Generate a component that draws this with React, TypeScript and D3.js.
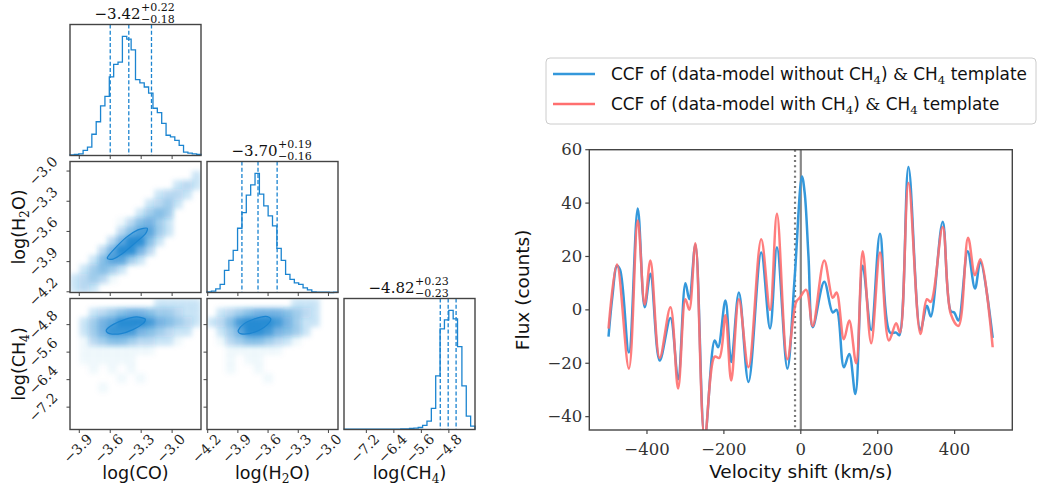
import React from "react";
import * as d3 from "d3";

// ---------------- CCF panel data ----------------
const blueVel = [-500,-490,-478,-470,-447,-424,-406,-391,-367,-339,-319,-300,-290,-274,-250,-224,-215,-196,-181,-161,-136,-103,-80,-62,-35,-16,3,10,20,31,61,83,93,112,126,142,161,183,206,232,248,256,280,311,328,338,369,390,399,410,434,453,467,499];
const blueFlux = [-10,5,16.5,15,-16,38,1,13.5,-19,-3,-26,10,4,24.5,-48,-11.5,-14,3.5,-19.5,6.5,-27,21.5,-7,23.5,-22,12,50,44,20,-6.5,10.5,-1,0,-21.5,-16.5,-31.5,16.5,-7.5,28.5,-8.5,-8.5,-9.5,53.5,-7.5,1.5,-2.5,33,-0.5,-1,-4,22,8,18,-10.5];
const redVel = [-500,-478,-447,-424,-406,-391,-367,-339,-319,-300,-290,-274,-250,-224,-212,-196,-181,-161,-136,-103,-80,-62,-35,-12,-3,14,31,61,83,93,112,126,144,161,183,206,229,248,258,280,311,328,338,369,390,410,435,453,467,499];
const redFlux = [-7,17,-22,33.5,2,18.5,-18,1,-29.5,4,0,25,-48,-17.5,-18,-2,-26.5,4,-21.5,26.5,0,36,-18.5,3,4.5,7.5,-6,18.5,4.5,6.5,-11,-4,-20,22,-12.5,21.5,-11.5,-5,-8.5,47.5,-9,4,3,31,-1.5,-6,27,13,19,-14];
const ccfXTicks = [-400, -200, 0, 200, 400];
const ccfYTicks = [-40, -20, 0, 20, 40, 60];
const restVelocity = 0;
const fitVelocity = -15;

// ---------------- corner plot data ----------------
const paramRanges: [number, number][] = [[-3.99, -2.72], [-4.207, -2.905], [-7.85, -4.04]];
const paramTicks = [[-3.9, -3.6, -3.3, -3.0], [-4.2, -3.9, -3.6, -3.3, -3.0], [-7.2, -6.4, -5.6, -4.8]];
const paramLabels = [["log(CO)"], ["log(H", "2", "O)"], ["log(CH", "4", ")"]];
const medians = [-3.42, -3.70, -4.82];
const errPlus = [0.22, 0.19, 0.23];
const errMinus = [0.18, 0.16, 0.23];

const histCO = [2,3,5,15,25,63,100,147,175,233,270,277,353,345,313,225,215,203,185,140,127,95,60,55,45,30,10,7,5,3];
const histH2O = [2,4,11,24,66,96,126,192,239,291,322,356,294,259,229,199,132,96,54,39,29,24,14,8,2,1,1,1,0,1];
const histCH4 = [1,1,1,1,1,1,1,1,1,1,1,1,1,2,2,3,4,6,12,25,63,160,300,327,355,330,247,130,40,10];

const densCOH2O = [
  "00000000000000",
  "00000000000002",
  "00000000000232",
  "00000000023320",
  "00000000234200",
  "00000002454000",
  "00000135642000",
  "00000357742000",
  "00003699520000",
  "00036996300000",
  "00257742000000",
  "02454200000000",
  "23431000000000",
  "23200000000000",
];
const densCOCH4 = [
  "00000000022222",
  "00234566544322",
  "02467999865432",
  "02468886543220",
  "01345543322100",
  "01111111100000",
  "01111110000000",
  "00101010000000",
  "00000101000000",
  "00010000000000",
  "00000000000000",
  "00000000000000",
  "00000000000000",
  "00000000000000",
];
const densH2OCH4 = [
  "00000000022200",
  "02345666543200",
  "23589998642200",
  "02469986542000",
  "01345543210000",
  "00111111000000",
  "00101100000000",
  "00100100000000",
  "00000010000000",
  "00000000000000",
  "00000000000000",
  "00000000000000",
  "00000000000000",
  "00000000000000",
];
const contourCOH2O: [number, number][] = [[-3.629,-3.862],[-3.557,-3.771],[-3.445,-3.659],[-3.332,-3.585],[-3.242,-3.568],[-3.261,-3.626],[-3.364,-3.720],[-3.477,-3.816],[-3.574,-3.876]];
const contourCOCH4: [number, number][] = [[-3.639,-4.965],[-3.574,-4.80],[-3.461,-4.655],[-3.348,-4.577],[-3.261,-4.635],[-3.283,-4.771],[-3.380,-4.945],[-3.493,-5.06],[-3.606,-5.06]];
const contourH2OCH4: [number, number][] = [[-3.896,-4.965],[-3.837,-4.771],[-3.738,-4.635],[-3.623,-4.56],[-3.573,-4.635],[-3.606,-4.80],[-3.688,-4.965],[-3.787,-5.06],[-3.876,-5.06]];

const hists = [histCO, histH2O, histCH4];
const pairs = [
  { row: 1, col: 0, dens: densCOH2O, contour: contourCOH2O },
  { row: 2, col: 0, dens: densCOCH4, contour: contourCOCH4 },
  { row: 2, col: 1, dens: densH2OCH4, contour: contourH2OCH4 },
];

const SERIF = "'DejaVu Serif', serif";
const SANS = "'DejaVu Sans', sans-serif";
const BLUE = "#1b84d0";
const CCF_BLUE = "#3498db";
const CCF_RED = "#ff6f6f";
const FRAME = "#444";

const fmt = (v: number) => (v < 0 ? "\u2212" : "") + Math.abs(v).toFixed(1);
const fmt2 = (v: number) => (v < 0 ? "\u2212" : "") + Math.abs(v).toFixed(2);

function SubLabel({ parts, size }: { parts: string[]; size: number }) {
  const sh = size * 0.22;
  return (
    <>
      {parts.map((p, k) =>
        k % 2 === 1 ? (
          <tspan key={k} fontFamily={SERIF} fontSize={size * 0.7} dy={sh}>{p}</tspan>
        ) : (
          <tspan key={k} dy={k > 0 ? -sh : 0}>{p}</tspan>
        )
      )}
    </>
  );
}

export default function App() {
  const S = 131;
  const panelX = [70, 207, 344];
  const panelY = [24.5, 161.5, 298.5];
  const xs = paramRanges.map((r, i) => d3.scaleLinear().domain(r).range([panelX[i], panelX[i] + S]));
  const ys = paramRanges.map((r, i) => d3.scaleLinear().domain(r).range([panelY[i] + S, panelY[i]]));
  const TICK_FS = 14;

  const cornerEls: React.ReactNode[] = [];

  hists.forEach((h, i) => {
    const [r0, r1] = paramRanges[i];
    const nb = h.length;
    const edges = d3.range(nb + 1).map((k) => r0 + (k * (r1 - r0)) / nb);
    const yh = d3.scaleLinear().domain([0, 1.1 * (d3.max(h) as number)]).range([panelY[i] + S, panelY[i]]);
    let path = `M${xs[i](edges[0])},${yh(0)}`;
    h.forEach((c, k) => {
      path += `L${xs[i](edges[k])},${yh(c)}L${xs[i](edges[k + 1])},${yh(c)}`;
    });
    path += `L${xs[i](edges[nb])},${yh(0)}`;
    const qs = [medians[i] - errMinus[i], medians[i], medians[i] + errPlus[i]];
    const cx = panelX[i] + S / 2 + 5;
    cornerEls.push(
      <g key={"h" + i}>
        <path d={path} fill="none" stroke={BLUE} strokeWidth={1.3} />
        {qs.map((q, k) => (
          <line key={k} x1={xs[i](q)} x2={xs[i](q)} y1={panelY[i]} y2={panelY[i] + S} stroke={BLUE} strokeWidth={1.3} strokeDasharray="4,2.2" />
        ))}
        <text x={cx} y={panelY[i] - 6} textAnchor="end" fontFamily={SERIF} fontSize={15} fill="#111">{fmt2(medians[i])}</text>
        <text x={cx + 0.5} y={panelY[i] - 13.5} fontFamily={SERIF} fontSize={11} fill="#111">{"+" + errPlus[i].toFixed(2)}</text>
        <text x={cx + 0.5} y={panelY[i] - 1.5} fontFamily={SERIF} fontSize={11} fill="#111">{"\u2212" + errMinus[i].toFixed(2)}</text>
      </g>
    );
  });

  pairs.forEach((p, idx) => {
    const { row, col, dens, contour } = p;
    const [xr0, xr1] = paramRanges[col];
    const [yr0, yr1] = paramRanges[row];
    const nr = dens.length;
    const nc = dens[0].length;
    const dx = (xr1 - xr0) / nc;
    const dy = (yr1 - yr0) / nr;
    const cells: React.ReactNode[] = [];
    dens.forEach((rowStr, r) => {
      rowStr.split("").forEach((ch, c) => {
        const v = +ch;
        if (v <= 0) return;
        const x0 = xs[col](xr0 + c * dx);
        const x1 = xs[col](xr0 + (c + 1) * dx);
        const yt = ys[row](yr1 - r * dy);
        const yb = ys[row](yr1 - (r + 1) * dy);
        const op = v === 1 ? 0.06 : Math.min(0.92, 0.1 * v);
        cells.push(<rect key={r + "_" + c} x={x0} y={yt} width={x1 - x0 + 0.5} height={yb - yt + 0.5} fill={BLUE} fillOpacity={op} />);
      });
    });
    const cline = d3
      .line<[number, number]>()
      .x((d) => xs[col](d[0]))
      .y((d) => ys[row](d[1]))
      .curve(d3.curveCardinalClosed.tension(0.2));
    cornerEls.push(
      <g key={"p" + idx} clipPath={`url(#clip${idx})`}>
        <g filter="url(#blur)">{cells}</g>
        <path d={cline(contour) || ""} fill={BLUE} fillOpacity={0.3} stroke={BLUE} strokeWidth={1.2} />
      </g>
    );
  });

  const frames: React.ReactNode[] = [];
  for (let r = 0; r < 3; r++) {
    for (let c = 0; c <= r; c++) {
      const x0 = panelX[c];
      const y0 = panelY[r];
      frames.push(<rect key={`f${r}${c}`} x={x0} y={y0} width={S} height={S} fill="none" stroke={FRAME} strokeWidth={1.4} />);
      paramTicks[c].forEach((t, k) => {
        const tx = xs[c](t);
        frames.push(<line key={`xt${r}${c}${k}`} x1={tx} x2={tx} y1={y0 + S} y2={y0 + S + 3.5} stroke={FRAME} strokeWidth={1} />);
        if (r === 2) {
          frames.push(
            <text key={`xl${c}${k}`} transform={`translate(${tx - 1.5},${y0 + S + 19}) rotate(-45)`} textAnchor="middle" dominantBaseline="central" fontFamily={SERIF} fontSize={TICK_FS} fill="#222">{fmt(t)}</text>
          );
        }
      });
      if (c < r) {
        paramTicks[r].forEach((t, k) => {
          const ty = ys[r](t);
          frames.push(<line key={`yt${r}${c}${k}`} x1={x0 - 3.5} x2={x0} y1={ty} y2={ty} stroke={FRAME} strokeWidth={1} />);
          if (c === 0) {
            frames.push(
              <text key={`yl${r}${k}`} transform={`translate(${x0 - 27},${ty}) rotate(-45)`} textAnchor="middle" dominantBaseline="central" fontFamily={SERIF} fontSize={TICK_FS} fill="#222">{fmt(t)}</text>
            );
          }
        });
      }
    }
  }

  const axisLabels: React.ReactNode[] = [];
  for (let c = 0; c < 3; c++) {
    axisLabels.push(
      <text key={"xlab" + c} x={panelX[c] + S / 2} y={479} textAnchor="middle" fontFamily={SANS} fontSize={17.5} fill="#111">
        <SubLabel parts={paramLabels[c]} size={17.5} />
      </text>
    );
  }
  for (let r = 1; r < 3; r++) {
    axisLabels.push(
      <text key={"ylab" + r} transform={`translate(25,${panelY[r] + S / 2}) rotate(-90)`} textAnchor="middle" fontFamily={SANS} fontSize={17.5} fill="#111">
        <SubLabel parts={paramLabels[r]} size={17.5} />
      </text>
    );
  }

  const L = 589.3, R = 1012.3, T = 149.7, B = 430;
  const vx = d3.scaleLinear().domain([-550, 550]).range([L, R]);
  const vy = d3.scaleLinear().domain([-45, 60]).range([B, T]);
  const mkLine = (vel: number[], flux: number[]) =>
    d3
      .line<number>()
      .x((_, i) => vx(vel[i]))
      .y((d) => vy(d))
      .curve(d3.curveCatmullRom.alpha(0.5))(flux) || "";

  const legendY = [74, 104];
  const legendColors = [CCF_BLUE, CCF_RED];
  const legendParts = [
    ["CCF of (data-model without CH", "4", ") ", "&", " CH", "4", " template"],
    ["CCF of (data-model with CH", "4", ") ", "&", " CH", "4", " template"],
  ];
  const renderLegend = (parts: string[]) => {
    const fs = 16.9;
    const sh = 3.8;
    const out: React.ReactNode[] = [];
    let shifted = false;
    parts.forEach((p, k) => {
      if (p === "4") {
        out.push(<tspan key={k} fontFamily={SERIF} fontSize={fs * 0.7} dy={sh}>{p}</tspan>);
        shifted = true;
      } else if (p === "&") {
        out.push(<tspan key={k} fontFamily={SERIF} dy={shifted ? -sh : 0}>{p}</tspan>);
        shifted = false;
      } else {
        out.push(<tspan key={k} dy={shifted ? -sh : 0}>{p}</tspan>);
        shifted = false;
      }
    });
    return out;
  };

  return (
    <svg width={1038} height={489} style={{ position: "absolute", left: 0, top: 0, background: "#fff" }}>
      <defs>
        <filter id="blur" x="-20%" y="-20%" width="140%" height="140%">
          <feGaussianBlur stdDeviation="2.6" />
        </filter>
        {pairs.map((p, idx) => (
          <clipPath key={idx} id={`clip${idx}`}>
            <rect x={panelX[p.col]} y={panelY[p.row]} width={S} height={S} />
          </clipPath>
        ))}
        <clipPath id="ccfclip">
          <rect x={L} y={T} width={R - L} height={B - T} />
        </clipPath>
      </defs>
      <rect x={0} y={0} width={1038} height={489} fill="#fff" />

      {cornerEls}
      {frames}
      {axisLabels}

      <g clipPath="url(#ccfclip)">
        <line x1={vx(fitVelocity)} x2={vx(fitVelocity)} y1={T} y2={B} stroke="#777" strokeWidth={2.2} strokeDasharray="2,3.2" />
        <line x1={vx(restVelocity)} x2={vx(restVelocity)} y1={T} y2={B} stroke="#888" strokeWidth={2.2} />
        <path d={mkLine(blueVel, blueFlux)} fill="none" stroke={CCF_BLUE} strokeWidth={2.5} />
        <path d={mkLine(redVel, redFlux)} fill="none" stroke={CCF_RED} strokeWidth={2.5} strokeOpacity={0.9} />
      </g>
      <rect x={L} y={T} width={R - L} height={B - T} fill="none" stroke={FRAME} strokeWidth={1.4} />
      {ccfXTicks.map((t) => (
        <g key={"cx" + t}>
          <line x1={vx(t)} x2={vx(t)} y1={B} y2={B + 4} stroke={FRAME} strokeWidth={1.2} />
          <text x={vx(t)} y={B + 25} textAnchor="middle" fontFamily={SERIF} fontSize={16.5} fill="#333">{t < 0 ? "\u2212" + Math.abs(t) : String(t)}</text>
        </g>
      ))}
      {ccfYTicks.map((t) => (
        <g key={"cy" + t}>
          <line x1={L - 4} x2={L} y1={vy(t)} y2={vy(t)} stroke={FRAME} strokeWidth={1.2} />
          <text x={L - 7} y={vy(t)} textAnchor="end" dominantBaseline="central" fontFamily={SERIF} fontSize={16.5} fill="#333">{t < 0 ? "\u2212" + Math.abs(t) : String(t)}</text>
        </g>
      ))}
      <text x={(L + R) / 2} y={478} textAnchor="middle" fontFamily={SANS} fontSize={18.5} fill="#111">Velocity shift (km/s)</text>
      <text transform={`translate(529,${(T + B) / 2}) rotate(-90)`} textAnchor="middle" fontFamily={SANS} fontSize={18.5} fill="#111">Flux (counts)</text>

      <rect x={546} y={58} width={490} height={66} rx={4} fill="#fff" fillOpacity={0.85} stroke="#ccc" strokeWidth={1} />
      {legendY.map((ly, k) => (
        <g key={"lg" + k}>
          <line x1={553} x2={595} y1={ly} y2={ly} stroke={legendColors[k]} strokeWidth={2.5} />
          <text x={611} y={ly + 6} fontFamily={SANS} fontSize={16.9} fill="#111">{renderLegend(legendParts[k])}</text>
        </g>
      ))}
    </svg>
  );
}
